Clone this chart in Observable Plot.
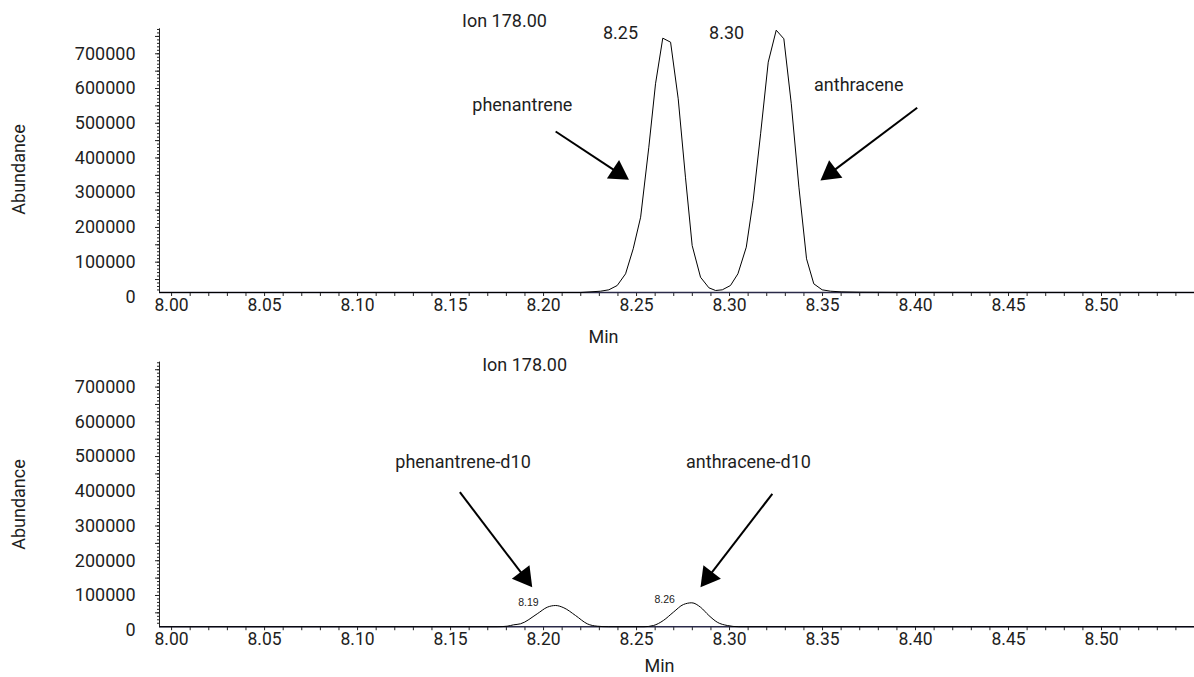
<!DOCTYPE html>
<html><head><meta charset="utf-8">
<script src="https://cdn.jsdelivr.net/npm/d3@7"></script>
<script src="https://cdn.jsdelivr.net/npm/@observablehq/plot@0.6"></script>
<style>
html,body{margin:0;padding:0;background:#fff;}
#wrap{position:relative;width:1194px;height:677px;overflow:hidden;background:#fff;}
.panel{position:absolute;left:0;}
</style></head><body><div id="wrap"></div>
<script>
// ---------- data ----------
const xTickLabels = [8.00, 8.05, 8.10, 8.15, 8.20, 8.25, 8.30, 8.35, 8.40, 8.45, 8.50];
const yTickLabels = [0, 100000, 200000, 300000, 400000, 500000, 600000, 700000];

// upper trace (Ion 178.00, phenanthrene / anthracene)
const topTime = [7.9935, 8.2200, 8.2306, 8.2351, 8.2396, 8.2441, 8.2482, 8.2522, 8.2566, 8.2602, 8.2641, 8.2683, 8.2724, 8.2763, 8.2799, 8.2844, 8.2889, 8.2925, 8.2961, 8.3005, 8.3045, 8.3090, 8.3127, 8.3167, 8.3208, 8.3251, 8.3292, 8.3332, 8.3373, 8.3414, 8.3453, 8.3498, 8.3543, 8.3600, 8.3700, 8.3900, 8.5500];
const topAbund = [12700, 12700, 16400, 20400, 32800, 66500, 138500, 229500, 431000, 613600, 745000, 733400, 570400, 344700, 148000, 56700, 26200, 18400, 20400, 32800, 66500, 143100, 277600, 469600, 675800, 768000, 743200, 556000, 315900, 109700, 37700, 20400, 16400, 14500, 13500, 13000, 12700];

// lower trace (Ion 178.00, deuterated standards)
const botTime = [7.9935, 8.1750, 8.1804, 8.1839, 8.1876, 8.1966, 8.2020, 8.2065, 8.2109, 8.2172, 8.2235, 8.2289, 8.2350, 8.2540, 8.2591, 8.2644, 8.2698, 8.2752, 8.2797, 8.2844, 8.2889, 8.2934, 8.2988, 8.3050, 8.5500];
const botAbund = [10000, 10000, 11500, 15500, 18400, 47200, 66200, 71100, 64500, 42300, 18400, 11500, 10000, 10000, 13500, 27900, 51800, 74000, 78900, 66200, 42300, 23000, 13500, 10000, 10000];

const topBaseline = 12700;
const botBaseline = 10000;

// annotations
const topNotes = [
  {x: 8.1790, y: 794400, text: "Ion 178.00"},
  {x: 8.2414, y: 760400, text: "8.25"},
  {x: 8.2984, y: 760400, text: "8.30"},
  {x: 8.1886, y: 551100, text: "phenantrene"},
  {x: 8.3695, y: 608700, text: "anthracene"}
];
const topArrows = [
  {x1: 8.2065, y1: 476200, x2: 8.2459, y2: 337200},
  {x1: 8.4009, y1: 544500, x2: 8.3489, y2: 335200}
];
const botNotes = [
  {x: 8.1898, y: 762200, text: "Ion 178.00"},
  {x: 8.1567, y: 483700, text: "phenantrene-d10"},
  {x: 8.3102, y: 482900, text: "anthracene-d10"}
];
const botPeakLabels = [
  {x: 8.1919, y: 79800, text: "8.19"},
  {x: 8.2651, y: 88400, text: "8.26"}
];
const botArrows = [
  {x1: 8.1550, y1: 397300, x2: 8.1939, y2: 123800},
  {x1: 8.3230, y1: 392700, x2: 8.2844, y2: 123800}
];

// ---------- layout ----------
const W = 1194, ML = 159, MR = 0;
const X0 = 7.9935, X1 = 8.55;
const YTOP = 772000;
const KX = (W - ML - MR) / (X1 - X0);   // px per minute
const KY = 34.73 / 100000;              // px per abundance unit
const FONT = "Roboto, 'Liberation Sans', sans-serif";

const xMinor = d3.range(0, 55).map(i => +(8.00 + i * 0.01).toFixed(2)).filter(v => v <= X1);
const yMinor = d3.range(2, 78).map(i => i * 10000);
const yMajor = d3.range(1, 16).map(i => i * 50000);

function heads(arrows) {
  const back = 12.7;
  return arrows.map(a => {
    const dxp = (a.x2 - a.x1) * KX, dyp = -(a.y2 - a.y1) * KY;
    const L = Math.hypot(dxp, dyp), ux = dxp / L, uy = dyp / L;
    return {x: a.x2 - ux * back / KX, y: a.y2 + uy * back / KY, angle: Math.atan2(ux, -uy) * 180 / Math.PI};
  });
}

function panel({time, abund, baseline, height, zeroPx, notes, arrows, peakLabels, curve, minDx, minDy, abDy}) {
  const trace = time.map((t, i) => ({t, v: abund[i]}));
  const marginBottom = height - zeroPx;
  const marginTop = zeroPx - YTOP * KY;
  const shiftUp = -baseline * KY;
  const hd = heads(arrows);
  const shafts = arrows.map((a, i) => ({x1: a.x1, y1: a.y1, x2: hd[i].x, y2: hd[i].y}));
  return Plot.plot({
    width: W, height, marginLeft: ML, marginRight: MR, marginTop, marginBottom,
    x: {domain: [X0, X1]},
    y: {domain: [0, YTOP]},
    style: {fontFamily: FONT, fontSize: "18px", color: "#1e1e1e", background: "transparent", overflow: "visible"},
    marks: [
      Plot.axisY({ticks: yTickLabels, tickSize: 0, tickPadding: 24, label: null, tickFormat: d => String(d), fontSize: 18}),
      Plot.axisY({ticks: yMinor, tickSize: 2, text: null, label: null, stroke: "#222"}),
      Plot.axisY({ticks: yMajor, tickSize: 4, text: null, label: null, stroke: "#222"}),
      Plot.axisX({ticks: xTickLabels, tickSize: 0, tickPadding: 2, label: null, tickFormat: d3.format(".2f"), fontSize: 17.5}),
      Plot.axisX({ticks: xMinor, tickSize: 4, text: null, label: null, dy: shiftUp, stroke: "#222"}),
      Plot.ruleY([baseline], {x1: X0, x2: X1, stroke: "#2a2a48", strokeWidth: 1.3}),
      Plot.ruleX([X0], {y1: baseline, y2: YTOP, stroke: "#222"}),
      Plot.line(trace, {x: "t", y: "v", stroke: "black", strokeWidth: 1, curve}),
      Plot.text(notes, {x: "x", y: "y", text: "text", fontSize: 18, fill: "#1e1e1e", textAnchor: "middle", lineAnchor: "middle"}),
      Plot.text(peakLabels, {x: "x", y: "y", text: "text", fontSize: 10.5, fontFamily: "'Liberation Sans', Arial, sans-serif", fill: "#222", textAnchor: "middle", lineAnchor: "middle"}),
      Plot.link(shafts, {x1: "x1", y1: "y1", x2: "x2", y2: "y2", stroke: "black", strokeWidth: 2}),
      Plot.dot(hd, {x: "x", y: "y", symbol: "triangle", r: 8.2, fill: "black", stroke: "none", rotate: "angle"}),
      Plot.text(["Min"], {frameAnchor: "bottom", dx: minDx, dy: minDy, fontSize: 18, fill: "#1e1e1e", lineAnchor: "middle"}),
      Plot.text(["Abundance"], {frameAnchor: "left", rotate: -90, dx: -140.5, dy: abDy, fontSize: 18, fill: "#1e1e1e", textAnchor: "middle", lineAnchor: "middle"})
    ]
  });
}

const wrap = document.getElementById("wrap");
const p1 = panel({time: topTime, abund: topAbund, baseline: topBaseline, height: 345, zeroPx: 296.4,
  notes: topNotes, arrows: topArrows, peakLabels: [], curve: "linear", minDx: -73.5, minDy: 40, abDy: 6.6});
p1.classList.add("panel"); p1.style.top = "0px";
const p2 = panel({time: botTime, abund: botAbund, baseline: botBaseline, height: 332, zeroPx: 284.7,
  notes: botNotes, arrows: botArrows, peakLabels: botPeakLabels, curve: "monotone-x", minDx: -17.5, minDy: 36.3, abDy: 8.4});
p2.classList.add("panel"); p2.style.top = "345px";
wrap.appendChild(p1);
wrap.appendChild(p2);
</script>
</body></html>
